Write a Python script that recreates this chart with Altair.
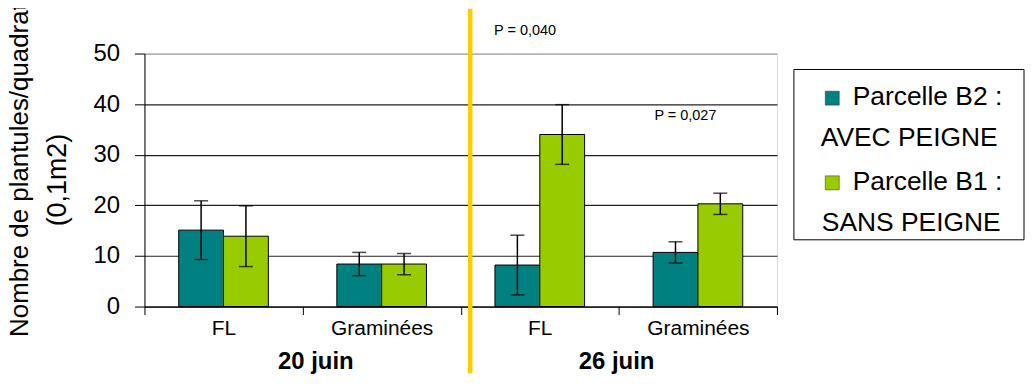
import altair as alt
import pandas as pd

# ---- data ----
dates = ["20 juin", "20 juin", "26 juin", "26 juin"]
categories = ["FL", "Graminées", "FL", "Graminées"]
series_names = ["Parcelle B2 : AVEC PEIGNE", "Parcelle B1 : SANS PEIGNE"]
legend_lines = [["Parcelle B2 :", "AVEC PEIGNE"], ["Parcelle B1 :", "SANS PEIGNE"]]
series_colors = ["#008080", "#99CC00"]
b2_means = [15.1, 8.4, 8.2, 10.7]
b2_err = [5.8, 2.3, 5.9, 2.1]
b1_means = [13.9, 8.4, 34.0, 20.3]
b1_err = [6.0, 2.1, 5.9, 2.1]
date_labels = ["20 juin", "26 juin"]
p_labels = ["P = 0,040", "P = 0,027"]
y_title = ["Nombre de plantules/quadrat", "(0,1m2)"]
y_ticks = [0, 10, 20, 30, 40, 50]

keys = [f"{d}|{c}" for d, c in zip(dates, categories)]
rows = []
for i, k in enumerate(keys):
    for s, means, errs in ((series_names[0], b2_means, b2_err), (series_names[1], b1_means, b1_err)):
        rows.append({"key": k, "series": s, "mean": means[i],
                     "lo": means[i] - errs[i], "hi": means[i] + errs[i]})
df = pd.DataFrame(rows)
one = pd.DataFrame({"d": [0]})

FONT = "Liberation Sans"
W, H = 635, 254
PAD_L, PAD_T, PAD_R, PAD_B = 137, 45, 250, 67

x = alt.X("key:N", sort=keys,
          scale=alt.Scale(paddingInner=0, paddingOuter=0),
          axis=alt.Axis(title=None, labelExpr="split(datum.label, '|')[1]",
                        tickBand="extent", labelAngle=0, labelFontSize=21,
                        labelFont=FONT, labelColor="black", tickSize=8,
                        tickColor="black", domainColor="black", labelPadding=3,
                        grid=False))
xo = alt.XOffset("series:N", sort=series_names,
                 scale=alt.Scale(paddingInner=0, paddingOuter=0.764))
yscale = alt.Scale(domain=[0, 50], nice=False)
y = alt.Y("mean:Q", scale=yscale,
          axis=alt.Axis(title=None, values=y_ticks, labelFontSize=24, labelFont=FONT,
                        labelColor="black", tickSize=10, tickColor="black",
                        domainColor="black", labelPadding=15,
                        gridColor={"condition": {"test": "datum.value == 50", "value": "#A0A0A0"},
                                   "value": "#222222"},
                        gridWidth=1.2))
color = alt.Color("series:N", scale=alt.Scale(domain=series_names, range=series_colors),
                  legend=None)

bars = alt.Chart(df).mark_bar(stroke="black", strokeWidth=1).encode(x=x, xOffset=xo, y=y, color=color)
err = alt.Chart(df).mark_rule(color="black", strokeWidth=1.5).encode(
    x=x, xOffset=xo, y=alt.Y("lo:Q", scale=yscale), y2="hi:Q")
cap_hi = alt.Chart(df).mark_tick(color="black", thickness=1.5, size=14, orient="horizontal").encode(
    x=x, xOffset=xo, y=alt.Y("hi:Q", scale=yscale))
cap_lo = alt.Chart(df).mark_tick(color="black", thickness=1.5, size=14, orient="horizontal").encode(
    x=x, xOffset=xo, y=alt.Y("lo:Q", scale=yscale))

yellow = alt.Chart(one).mark_rule(color="#FFCC00", strokeWidth=4.5).encode(
    x=alt.value(327), y=alt.value(-PAD_T), y2=alt.value(H + PAD_B))

def txt(t, xv, yv, size, bold=False, align="left", angle=0, baseline="middle"):
    m = alt.Chart(one).mark_text(text=t, font=FONT, fontSize=size, color="black",
                                 fontWeight="bold" if bold else "normal",
                                 align=align, baseline=baseline, angle=angle)
    return m.encode(x=alt.value(xv), y=alt.value(yv))

texts = [
    txt(date_labels[0], 172, 316.5, 24, bold=True, align="center", baseline="alphabetic"),
    txt(date_labels[1], 474, 316.5, 24, bold=True, align="center", baseline="alphabetic"),
    txt(p_labels[0], 351, -22.7, 14.5),
    txt(p_labels[1], 512, 62.3, 14.5),
    txt(y_title[0], -124.5, 117, 26, align="center", angle=270),
    txt(y_title[1], -87, 127, 27, align="center", angle=270),
]

legend_box = alt.Chart(one).mark_rect(fill="white", stroke="black", strokeWidth=1).encode(
    x=alt.value(652), x2=alt.value(883), y=alt.value(16), y2=alt.value(187))
sq1 = alt.Chart(one).mark_square(size=196, filled=True, opacity=1, stroke="#444", strokeWidth=0.6).encode(
    x=alt.value(690.5), y=alt.value(44.8), fill=alt.value(series_colors[0]))
sq2 = alt.Chart(one).mark_square(size=196, filled=True, opacity=1, stroke="#444", strokeWidth=0.6).encode(
    x=alt.value(690.5), y=alt.value(129.8), fill=alt.value(series_colors[1]))
leg_texts = [
    txt(legend_lines[0][0], 711, 43.3, 26.5),
    txt(legend_lines[0][1], 679, 85.3, 26.5),
    txt(legend_lines[1][0], 711, 129.3, 26.5),
    txt(legend_lines[1][1], 680, 170.3, 26.5),
]

chart = alt.layer(bars, err, cap_hi, cap_lo, yellow, legend_box, sq1, sq2, *texts, *leg_texts).properties(
    width=W, height=H,
    autosize=alt.AutoSizeParams(type="none"),
    padding={"left": PAD_L, "top": PAD_T, "right": PAD_R, "bottom": PAD_B},
).configure_view(stroke="#A0A0A0", strokeWidth=1).configure(background="white")

chart.save("out.html", embed_options={"renderer": "svg", "actions": False})
